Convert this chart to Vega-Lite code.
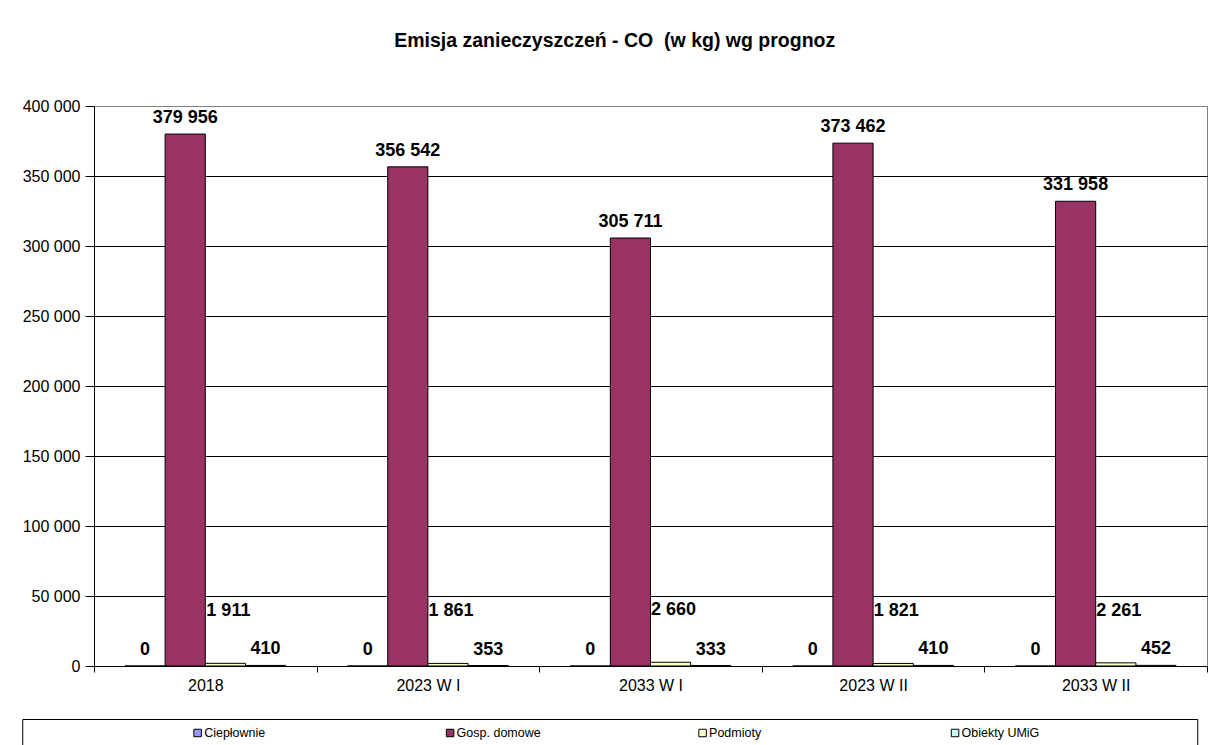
{
  "$schema": "https://vega.github.io/schema/vega-lite/v6.json",
  "padding": {"left": 21, "top": 31, "right": 0, "bottom": 0},
  "background": "white",
  "title": {
    "text": "Emisja zanieczyszczeń - CO \u00a0(w kg) wg prognoz",
    "fontSize": 19.5,
    "font": "Liberation Sans",
    "fontWeight": "bold",
    "color": "black",
    "anchor": "middle",
    "dx": -36,
    "offset": 46
  },
  "config": {
    "locale": {"number": {"decimal": ",", "thousands": " ", "grouping": [3], "currency": ["", " zł"]}},
    "font": "Liberation Sans",
    "concat": {"spacing": 24}
  },
  "datasets": {
    "emisja": [
      {"cat": "2018", "series": "Ciepłownie", "value": 0},
      {"cat": "2018", "series": "Gosp. domowe", "value": 379956},
      {"cat": "2018", "series": "Podmioty", "value": 1911},
      {"cat": "2018", "series": "Obiekty UMiG", "value": 410},
      {"cat": "2023 W I", "series": "Ciepłownie", "value": 0},
      {"cat": "2023 W I", "series": "Gosp. domowe", "value": 356542},
      {"cat": "2023 W I", "series": "Podmioty", "value": 1861},
      {"cat": "2023 W I", "series": "Obiekty UMiG", "value": 353},
      {"cat": "2033 W I", "series": "Ciepłownie", "value": 0},
      {"cat": "2033 W I", "series": "Gosp. domowe", "value": 305711},
      {"cat": "2033 W I", "series": "Podmioty", "value": 2660},
      {"cat": "2033 W I", "series": "Obiekty UMiG", "value": 333},
      {"cat": "2023 W II", "series": "Ciepłownie", "value": 0},
      {"cat": "2023 W II", "series": "Gosp. domowe", "value": 373462},
      {"cat": "2023 W II", "series": "Podmioty", "value": 1821},
      {"cat": "2023 W II", "series": "Obiekty UMiG", "value": 410},
      {"cat": "2033 W II", "series": "Ciepłownie", "value": 0},
      {"cat": "2033 W II", "series": "Gosp. domowe", "value": 331958},
      {"cat": "2033 W II", "series": "Podmioty", "value": 2261},
      {"cat": "2033 W II", "series": "Obiekty UMiG", "value": 452}
    ]
  },
  "data": {"name": "emisja"},
  "columns": 1,
  "center": true,
  "resolve": {"scale": {"x": "independent", "y": "independent", "color": "shared"}},
  "concat": [
    {
      "width": 1113,
      "height": 560,
      "view": {"stroke": "#808080", "strokeWidth": 1},
      "encoding": {
        "x": {
          "field": "cat",
          "type": "nominal",
          "sort": null,
          "title": null,
          "scale": {"paddingInner": 0, "paddingOuter": 0},
          "axis": {
            "tickBand": "extent",
            "labelAngle": 0,
            "labelFontSize": 16,
            "labelFont": "Liberation Sans",
            "labelColor": "black",
            "tickColor": "black",
            "tickSize": 6,
            "domainColor": "black",
            "labelPadding": 5,
            "grid": false
          }
        },
        "xOffset": {
          "field": "series",
          "type": "nominal",
          "sort": ["Ciepłownie", "Gosp. domowe", "Podmioty", "Obiekty UMiG"],
          "scale": {"paddingInner": 0, "paddingOuter": 0.77}
        },
        "y": {
          "field": "value",
          "type": "quantitative",
          "title": null,
          "scale": {"domain": [0, 400000], "nice": false},
          "axis": {
            "tickCount": 8,
            "format": ",d",
            "labelFontSize": 16,
            "labelFont": "Liberation Sans",
            "labelColor": "black",
            "tickColor": "black",
            "tickSize": 9,
            "domainColor": "black",
            "labelPadding": 5,
            "gridColor": {"condition": {"test": "datum.value === 400000", "value": "#808080"}, "value": "#000000"},
            "gridWidth": 1,
            "gridOpacity": 1
          }
        }
      },
      "layer": [
        {
          "mark": {"type": "bar", "stroke": "black", "strokeWidth": 1},
          "encoding": {
            "color": {
              "field": "series",
              "type": "nominal",
              "scale": {
                "domain": ["Ciepłownie", "Gosp. domowe", "Podmioty", "Obiekty UMiG"],
                "range": ["#9999FF", "#993366", "#FFFFCC", "#CCFFFF"]
              },
              "legend": null
            }
          }
        },
        {
          "transform": [{"filter": "datum.series !== 'Podmioty'"}],
          "mark": {"type": "text", "dy": -11, "baseline": "alphabetic", "fontSize": 18, "fontWeight": "bold", "font": "Liberation Sans", "color": "black"},
          "encoding": {"text": {"field": "value", "type": "quantitative", "format": ",d"}}
        },
        {
          "transform": [{"filter": "datum.series === 'Podmioty'"}],
          "mark": {"type": "text", "dy": -47, "dx": 3, "baseline": "alphabetic", "fontSize": 18, "fontWeight": "bold", "font": "Liberation Sans", "color": "black"},
          "encoding": {"text": {"field": "value", "type": "quantitative", "format": ",d"}}
        }
      ]
    },
    {
      "width": 1175,
      "height": 28,
      "view": {"stroke": "black", "strokeWidth": 1},
      "transform": [{"filter": "datum.cat === '2018'"}],
      "encoding": {
        "x": {
          "field": "series",
          "type": "nominal",
          "sort": ["Ciepłownie", "Gosp. domowe", "Podmioty", "Obiekty UMiG"],
          "scale": {"type": "point", "padding": 0.827, "align": 0.42},
          "axis": null
        },
        "y": {
          "datum": 0,
          "type": "quantitative",
          "scale": {"domain": [-1, 1]},
          "axis": {
            "orient": "right",
            "offset": 82,
            "labels": false,
            "ticks": false,
            "grid": false,
            "domain": true,
            "domainColor": "white",
            "title": null
          }
        }
      },
      "layer": [
        {
          "mark": {"type": "point", "shape": "square", "size": 56, "filled": true, "stroke": "black", "strokeWidth": 1, "opacity": 1},
          "encoding": {"color": {"field": "series", "type": "nominal", "legend": null}}
        },
        {
          "mark": {"type": "text", "align": "left", "dx": 6.5, "baseline": "middle", "fontSize": 12.5, "font": "Liberation Sans", "color": "black"},
          "encoding": {"text": {"field": "series", "type": "nominal"}}
        }
      ]
    }
  ]
}
